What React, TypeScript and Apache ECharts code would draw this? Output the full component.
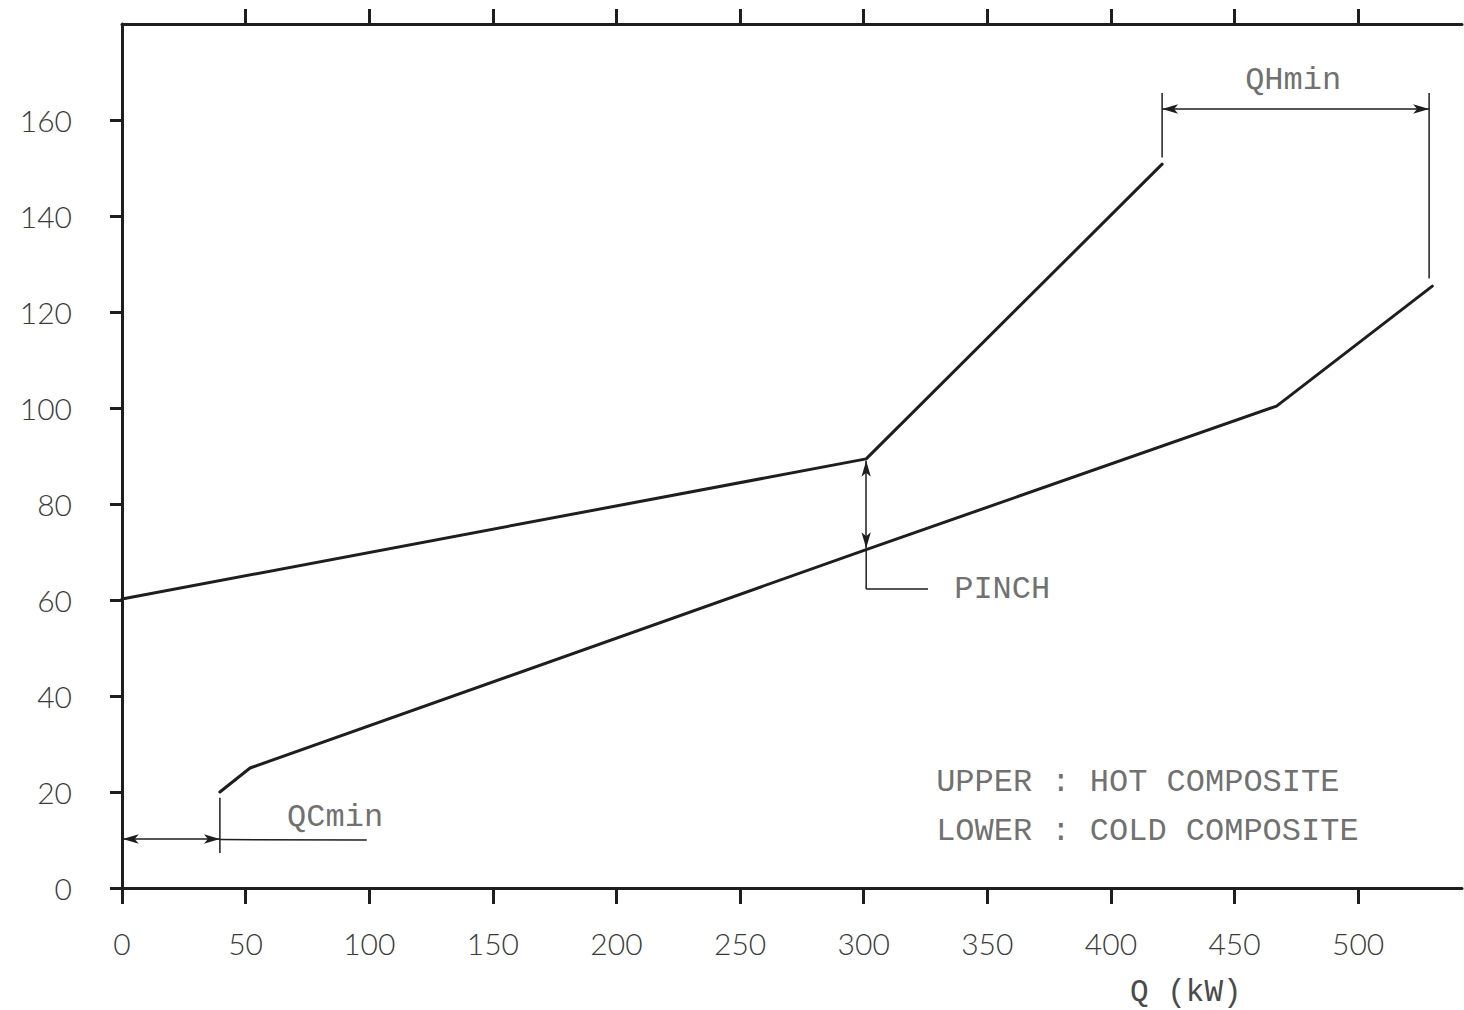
import React, { useEffect, useRef } from "react";
import * as echarts from "echarts";

// ---- data ----
const xTickValues = [0, 50, 100, 150, 200, 250, 300, 350, 400, 450, 500];
const xTopTickValues = [50, 100, 150, 200, 250, 300, 350, 400, 450, 500];
const yTickValues = [0, 20, 40, 60, 80, 100, 120, 140, 160];

const hotComposite = [
  [0, 60.2],
  [301, 89.4],
  [420.7, 150.8],
];
const coldComposite = [
  [39.6, 20.0],
  [51.8, 25.0],
  [301, 70.5],
  [467, 100.4],
  [530, 125.4],
];

// annotation lines (data coordinates)
const plainSegments = [
  [[420.7, 152.2], [420.7, 165.6]], // QHmin left guide
  [[528.7, 127.0], [528.7, 165.6]], // QHmin right guide
  [[39.6, 7.3], [39.6, 18.8]], // QCmin guide
  [[39.6, 10.1], [99, 10.0]], // QCmin leader
  [[301, 62.3], [301, 70.5]], // pinch leader vertical
  [[301, 62.3], [326, 62.3]], // pinch leader horizontal
];
const arrowSegments = [
  [[420.7, 162.3], [528.7, 162.3]], // QHmin
  [[0.3, 10.2], [39.6, 10.2]], // QCmin
  [[301, 70.8], [301, 89.0]], // pinch
];
const annotationLabels = [
  { name: "QHmin", x: 473.7, y: 168.3, pos: "inside" },
  { name: "QCmin", x: 86.2, y: 14.6, pos: "inside" },
  { name: "PINCH", x: 336.2, y: 62.1, pos: "right" },
  { name: "UPPER : HOT COMPOSITE", x: 328.9, y: 21.9, pos: "right" },
  { name: "LOWER : COLD COMPOSITE", x: 328.9, y: 11.7, pos: "right" },
];
const xAxisName = "Q (kW)";

const INK = "#1e1e1e";
const TEXT = "#3a3a3a";
const MONO_TEXT = "#4a4a4a";
const MONO = "Liberation Mono";
const SANS = "Lato";

export default function App() {
  const ref = useRef<HTMLDivElement>(null);

  useEffect(() => {
    document.body.style.margin = "0";
    const chart = echarts.init(ref.current!, undefined, { renderer: "svg" });

    const plainSeries = plainSegments.map((seg, i) => ({
      type: "line",
      name: "guide" + i,
      data: seg,
      xAxisIndex: 0,
      yAxisIndex: 0,
      symbol: "none",
      silent: true,
      lineStyle: { color: INK, width: 1.5 },
      z: 3,
    }));

    const option: any = {
      animation: false,
      backgroundColor: "#ffffff",
      grid: { left: 122, top: 24, width: 1340, height: 864, containLabel: false },
      xAxis: [
        {
          type: "value",
          position: "bottom",
          min: 0,
          max: 542,
          axisLine: { show: true, lineStyle: { color: INK, width: 3 } },
          axisTick: {
            show: true,
            customValues: xTickValues,
            inside: false,
            length: 16,
            lineStyle: { color: INK, width: 3 },
          },
          axisLabel: {
            show: true,
            customValues: xTickValues,
            margin: 40,
            fontFamily: SANS,
            fontWeight: 300,
            fontSize: 30,
            color: TEXT,
          },
          splitLine: { show: false },
        },
        {
          type: "value",
          position: "top",
          min: 0,
          max: 542,
          axisLine: { show: true, lineStyle: { color: INK, width: 3 } },
          axisTick: {
            show: true,
            customValues: xTopTickValues,
            inside: false,
            length: 15,
            lineStyle: { color: INK, width: 3 },
          },
          axisLabel: { show: false },
          splitLine: { show: false },
        },
      ],
      yAxis: [
        {
          type: "value",
          min: 0,
          max: 180,
          axisLine: { show: true, lineStyle: { color: INK, width: 3 } },
          axisTick: {
            show: true,
            customValues: yTickValues,
            inside: false,
            length: 12,
            lineStyle: { color: INK, width: 3 },
          },
          axisLabel: {
            show: true,
            customValues: yTickValues,
            margin: 50,
            fontFamily: SANS,
            fontWeight: 300,
            fontSize: 30,
            color: TEXT,
          },
          splitLine: { show: false },
        },
      ],
      graphic: [
        {
          type: "text",
          left: 1130,
          top: 977,
          style: {
            text: xAxisName,
            fontFamily: MONO,
            fontSize: 31,
            fill: MONO_TEXT,
          },
        },
      ],
      series: [
        {
          type: "line",
          name: "Hot composite",
          data: hotComposite,
          symbol: "none",
          silent: true,
          lineStyle: { color: INK, width: 3, cap: "round", join: "round" },
          z: 4,
        },
        {
          type: "line",
          name: "Cold composite",
          data: coldComposite,
          symbol: "none",
          silent: true,
          lineStyle: { color: INK, width: 3, cap: "round", join: "round" },
          z: 4,
          markLine: {
            silent: true,
            symbol: ["arrow", "arrow"],
            symbolSize: [7, 16],
            label: { show: false },
            lineStyle: { color: INK, width: 1.5, type: "solid" },
            emphasis: { disabled: true },
            data: arrowSegments.map((s) => [{ coord: s[0] }, { coord: s[1] }]),
          },
        },
        ...plainSeries,
        {
          type: "scatter",
          name: "labels",
          symbol: "circle",
          symbolSize: 2,
          silent: true,
          itemStyle: { color: "rgba(0,0,0,0)" },
          data: annotationLabels.map((l) => ({
            name: l.name,
            value: [l.x, l.y],
            label: {
              show: true,
              position: l.pos,
              distance: 0,
              formatter: "{b}",
              fontFamily: MONO,
              fontSize: 32,
              color: MONO_TEXT,
            },
          })),
          z: 5,
        },
      ],
    };

    chart.setOption(option);
    return () => chart.dispose();
  }, []);

  return <div ref={ref} style={{ width: 1464, height: 1010 }} />;
}
